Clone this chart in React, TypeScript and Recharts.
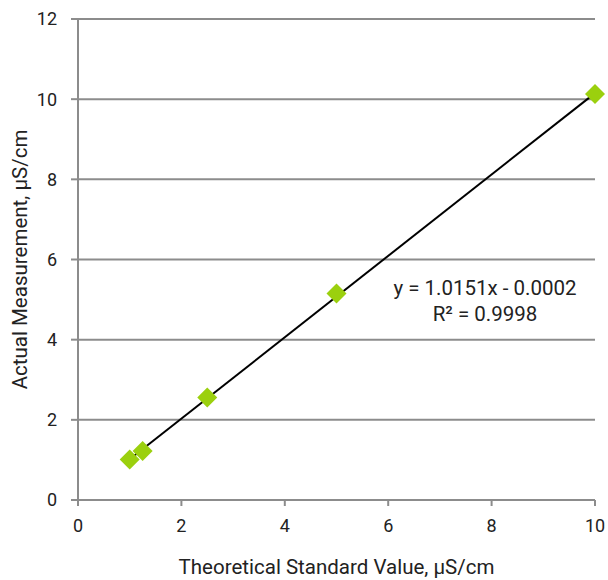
import React from "react";
import {
  ComposedChart,
  Scatter,
  Line,
  XAxis,
  YAxis,
  CartesianGrid,
  Label,
} from "recharts";

document.body.style.margin = "0";

// calibration points
const theoretical = [1, 1.25, 2.5, 5, 10];
const measured = [1.01, 1.22, 2.56, 5.15, 10.13];

// linear fit endpoints (x = 1 and x = 10)
const fitX = [1, 10];
const fitY = [1.015, 10.151];

const xTicks = [0, 2, 4, 6, 8, 10];
const yTicks = [0, 2, 4, 6, 8, 10, 12];

const points = theoretical.map((x, i) => ({ x, y: measured[i] }));
const fit = fitX.map((x, i) => ({ x, y: fitY[i] }));

const GRAY = "#8c8c8c";
const FONT = "Roboto, sans-serif";

const Diamond = (props: any) => {
  const { cx, cy } = props;
  const r = 10;
  return (
    <path
      d={`M${cx},${cy - r} L${cx + r},${cy} L${cx},${cy + r} L${cx - r},${cy} Z`}
      fill="#9bd00e"
    />
  );
};

export default function App() {
  return (
    <ComposedChart
      width={608}
      height={580}
      margin={{ top: 19, right: 13, left: 0, bottom: 0 }}
      style={{ fontFamily: FONT }}
    >
      <CartesianGrid horizontal vertical={false} stroke={GRAY} strokeWidth={2} />
      <XAxis
        type="number"
        dataKey="x"
        domain={[0, 10]}
        ticks={xTicks}
        height={80}
        stroke={GRAY}
        strokeWidth={2}
        tickSize={6}
        tickMargin={13}
        tick={{ fill: "#222", fontSize: 18, fontFamily: FONT }}
      >
        <Label
          value="Theoretical Standard Value, µS/cm"
          position="insideBottom"
          offset={6}
          style={{ fill: "#222", fontSize: 20.5, fontFamily: FONT }}
        />
      </XAxis>
      <YAxis
        type="number"
        dataKey="y"
        domain={[0, 12]}
        ticks={yTicks}
        width={78}
        stroke={GRAY}
        strokeWidth={2}
        tickSize={7}
        tickMargin={14}
        tick={{ fill: "#222", fontSize: 18, fontFamily: FONT }}
      >
        <Label
          value="Actual Measurement, µS/cm"
          angle={-90}
          position="insideLeft"
          offset={20}
          style={{ fill: "#222", fontSize: 20.5, fontFamily: FONT, textAnchor: "middle" }}
        />
      </YAxis>
      <Scatter data={points} dataKey="y" shape={<Diamond />} isAnimationActive={false} />
      <Line
        data={fit}
        dataKey="y"
        type="linear"
        stroke="#000"
        strokeWidth={2}
        dot={false}
        activeDot={false}
        isAnimationActive={false}
      />
      <text x={485} y={295} textAnchor="middle" fontSize={20.5} fontFamily={FONT} fill="#222">
        y = 1.0151x - 0.0002
      </text>
      <text x={485} y={321} textAnchor="middle" fontSize={20.5} fontFamily={FONT} fill="#222">
        R² = 0.9998
      </text>
    </ComposedChart>
  );
}
